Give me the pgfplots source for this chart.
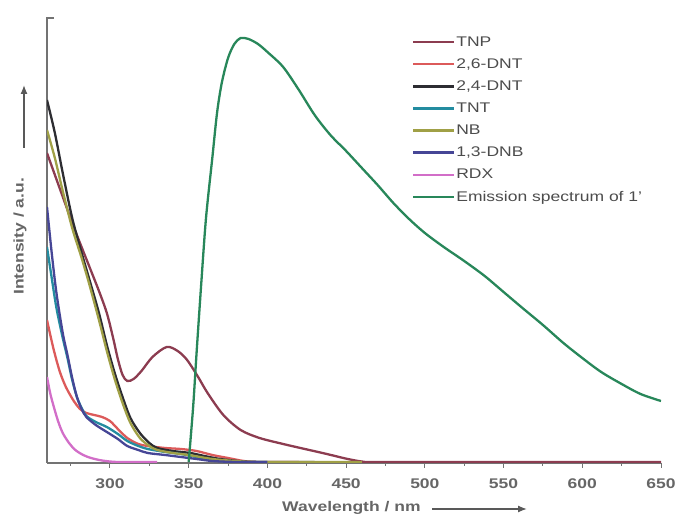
\documentclass[border=0pt]{standalone}
\usepackage{pgfplots}
\pgfplotsset{compat=1.18}
\usepackage{fontspec}
\setmainfont{Liberation Sans}[FakeStretch=1.25]
\usetikzlibrary{arrows.meta}
\definecolor{cTNP}{RGB}{140,60,80}
\definecolor{cDNTa}{RGB}{220,90,90}
\definecolor{cDNTb}{RGB}{45,45,50}
\definecolor{cTNT}{RGB}{35,140,160}
\definecolor{cNB}{RGB}{160,160,70}
\definecolor{cDNB}{RGB}{70,70,150}
\definecolor{cRDX}{RGB}{210,110,200}
\definecolor{cEM}{RGB}{40,135,90}
\begin{document}
\begin{tikzpicture}
\useasboundingbox (-47pt,-56pt) rectangle (628pt,463pt);
\begin{axis}[
  at={(0pt,0pt)}, anchor=south west,
  scale only axis, width=614pt, height=445pt,
  xmin=260, xmax=650, ymin=0, ymax=445,
  axis x line*=bottom, axis y line*=left,
  axis line style={line width=1.5pt, black!55},
  xtick={300,350,...,650}, minor xtick={275,325,...,625}, ytick=\empty,
  tick align=outside, major tick length=5pt, minor tick length=3pt,
  every tick/.style={black!55, line width=1pt},
  xticklabel style={font=\fontsize{14}{16}\selectfont\bfseries, text=black!60, yshift=-7pt},
  /pgf/number format/assume math mode=true,
  /pgf/number format/1000 sep={},
  legend style={at={(rel axis cs:0.589,0.966)}, anchor=north west, draw=none, fill=none,
    font=\fontsize{14}{16}\selectfont, text=black!70, row sep=8.5pt,
    nodes={inner sep=1.2pt}},
  legend cell align=left,
  legend image code/.code={\draw[#1] (0pt,0pt) -- (41pt,0pt);},
  every axis plot/.append style={line width=2.3pt, smooth},
]
\addplot[cTNP] coordinates {(260,310)(268,275)(277,236)(287,196)(293,172)(298,150)(302,125)(305,104)(308,88)(311,82)(315,84)(320,92)(327,106)(336,116)(343,112)(349,103)(356,86)(362,70)(372,48)(383,33)(395,25)(410,19)(421,15)(435,10)(443,7)(451,4)(460,1.5)(470,1)(550,1)(650,1)};
\addlegendentry{TNP}
\addplot[cDNTa] coordinates {(260,143)(264,115)(268,92)(272,76)(277,62)(281,54)(285,50)(290,48)(295,46)(300,42)(305,34)(311,25)(318,19)(324,17)(335,15)(345,14)(355,12)(365,8)(375,5)(385,2)(395,1)(420,1)};
\addlegendentry{2,6-DNT}
\addplot[cDNTb] coordinates {(260,363)(265,330)(270,290)(276,245)(282,210)(287,183)(293,150)(298,118)(303,90)(308,66)(313,45)(319,30)(325,20)(330,15)(340,12)(351,10)(360,7)(370,4)(385,1.5)(400,1)(430,1)};
\addlegendentry{2,4-DNT}
\addplot[cTNT] coordinates {(260,216)(263,185)(266,155)(270,125)(273,105)(276,83)(279,66)(282,55)(285,47)(291,41)(298,36)(305,29)(311,22)(318,17)(324,14)(335,11)(345,9)(355,6)(365,3)(380,1)(400,1)};
\addlegendentry{TNT}
\addplot[cNB] coordinates {(260,333)(265,305)(270,272)(276,235)(282,205)(287,178)(293,143)(298,112)(303,84)(308,60)(313,40)(319,25)(325,17)(330,13)(340,10)(350,8)(365,4)(380,2)(395,1)(460,1)};
\addlegendentry{NB}
\addplot[cDNB] coordinates {(260,256)(263,210)(266,170)(270,130)(273,108)(276,85)(279,66)(282,54)(285,46)(291,38)(298,31)(305,24)(311,17)(318,13)(324,10)(335,8)(345,6)(355,4)(365,2)(380,1)(400,1)};
\addlegendentry{1,3-DNB}
\addplot[cRDX] coordinates {(260,86)(262,70)(264,58)(267,42)(270,30)(274,20)(278,13)(283,8)(288,5)(295,2.5)(305,1)(330,1)};
\addlegendentry{RDX}
\addplot[cEM] coordinates {(350,1)(351,20)(353,60)(355,110)(358,180)(361,245)(365,305)(368,350)(371,380)(375,405)(379,419)(383,425)(388,424)(394,419)(400,411)(410,396)(420,373)(430,348)(440,328)(450,312)(460,295)(470,278)(480,260)(490,244)(500,230)(512,216)(525,202)(538,187)(550,171)(562,155)(575,138)(588,120)(600,105)(612,91)(625,79)(637,69)(650,62)};
\addlegendentry{Emission spectrum of 1'}
\end{axis}
\draw[black!55, line width=1.3pt] (-0.75pt,445pt) -- (7pt,445pt);
\node[rotate=90, anchor=west, font=\fontsize{14}{16}\selectfont\bfseries, text=black!60, inner sep=0pt] at (-27pt,168pt) {Intensity / a.u.};
\draw[black!65, line width=1.3pt, -{Latex[length=9pt,width=7pt]}] (-23pt,315pt) -- (-23pt,378pt);
\node[anchor=west, font=\fontsize{14}{16}\selectfont\bfseries, text=black!60, inner sep=0pt] at (235pt,-45pt) {Wavelength / nm};
\draw[black!65, line width=1.3pt, -{Latex[length=9pt,width=7pt]}] (385pt,-46pt) -- (480pt,-46pt);
\end{tikzpicture}
\end{document}
